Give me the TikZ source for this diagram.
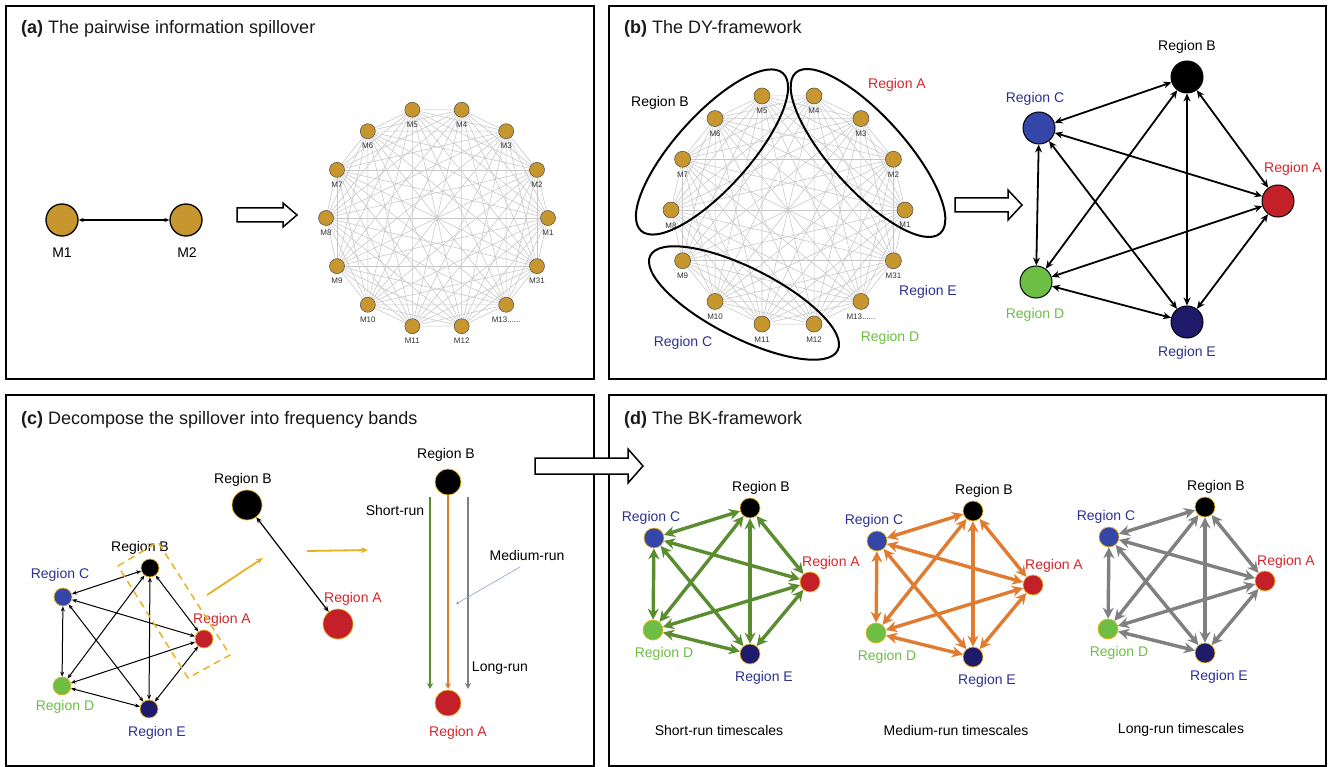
\documentclass[tikz,border=0pt]{standalone}
\usepackage{fontspec}
\setmainfont{Liberation Sans}
\usetikzlibrary{arrows.meta,calc}
\newcommand\mthirteenlab{M13......}
\definecolor{mgold}{HTML}{C8962E}
\definecolor{nodeC}{HTML}{3446A8}
\definecolor{nodeA}{HTML}{C4202A}
\definecolor{nodeD}{HTML}{6DBE45}
\definecolor{nodeE}{HTML}{1E1B6B}
\definecolor{txtRed}{HTML}{D7262B}
\definecolor{txtGreen}{HTML}{6DBE45}
\definecolor{txtNavy}{HTML}{2E3192}
\definecolor{ylw}{HTML}{E8B422}
\definecolor{arrowYlw}{HTML}{E8B020}
\definecolor{edgeGreen}{HTML}{5A8C30}
\definecolor{edgeOrange}{HTML}{E07B30}
\definecolor{edgeGray}{HTML}{808080}
\definecolor{blueThin}{HTML}{8C9CE8}
\begin{document}
\begin{tikzpicture}[x=1pt,y=-1pt,
  frame/.style={draw=black, line width=1.8pt},
  title/.style={anchor=west, font=\fontsize{18}{21}\selectfont, text=black!90, inner sep=0},
  lab/.style={font=\fontsize{14}{16}\selectfont, inner sep=0},
  mlab/.style={font=\fontsize{8}{9}\selectfont, text=black!80, inner sep=0},
  mesh/.style={draw=black!22, line width=0.55pt},
  mnode/.style={circle, fill=mgold, draw=black!70, line width=0.5pt, minimum size=15pt, inner sep=0},
  mbig/.style={circle, fill=mgold, draw=black, line width=1.3pt, minimum size=32pt, inner sep=0},
  hollow/.style={draw=black, fill=white, line width=1.5pt, line join=miter},
  regell/.style={draw=black, line width=2pt},
  bnode/.style={circle, draw=black, line width=1pt, minimum size=32pt, inner sep=0},
  bedge/.style={line width=1.8pt, {Stealth[length=8pt,width=7pt]}-{Stealth[length=8pt,width=7pt]}},
  cnode/.style={circle, draw=ylw, line width=0.7pt, inner sep=0},
  cedge/.style={line width=1pt, {Stealth[length=5pt,width=4pt]}-{Stealth[length=5pt,width=4pt]}},
  dedge/.style={line width=3.4pt, {Stealth[length=11pt,width=11pt]}-{Stealth[length=11pt,width=11pt]}},
  varrow/.style={line width=2.2pt, -{Stealth[length=6pt,width=6pt]}},
  yarrow/.style={draw=arrowYlw, line width=1.8pt, -{Stealth[length=7pt,width=6pt]}}
]
\useasboundingbox (0,0) rectangle (1330,767);
\fill[white] (0,0) rectangle (1330,767);

% frames
\draw[frame] (6,6) rectangle (594,379);
\draw[frame] (609,6) rectangle (1326,379);
\draw[frame] (6,395) rectangle (594,766);
\draw[frame] (609,395) rectangle (1326,766);

% ---------------- (a)
\node[title] (ta) at (21,29) {\textbf{(a)} The pairwise information spillover};
\node[mbig] (m1) at (62,220) {};
\node[mbig] (m2) at (186,220) {};
\draw[line width=1.3pt, {Stealth[length=5pt,width=4pt]}-{Stealth[length=5pt,width=4pt]}] (m1) -- (m2);
\node[lab] (m1l) at (62,253) {M1};
\node[lab] (m2l) at (187,253) {M2};
\draw[hollow] (237,208) -- (283,208) -- (283,203) -- (297,215) -- (283,227) -- (283,222) -- (237,222) -- cycle;

\begin{scope}[shift={(437,218)}]
  \foreach \i in {0,...,13} \coordinate (ap\i) at ({-\i*360/14}:111);
  \foreach \i in {0,...,12} {
    \pgfmathtruncatemacro\ni{\i+1}
    \foreach \j in {\ni,...,13} \draw[mesh] (ap\i) -- (ap\j);
  }
  \foreach \i/\t in {0/M1,1/M2,2/M3,3/M4,4/M5,5/M6,6/M7,7/M8,8/M9,9/M10,10/M11,11/M12,12/\mthirteenlab,13/M31}
    \node[mnode, label={[mlab, label distance=4pt]below:\t}] (an\i) at (ap\i) {};
\end{scope}

% ---------------- (b)
\node[title] (tb) at (624,29) {\textbf{(b)} The DY-framework};
\begin{scope}[shift={(788,210)}]
  \foreach \i in {0,...,13} \coordinate (bp\i) at ({-\i*360/14}:117);
  \foreach \i in {0,...,12} {
    \pgfmathtruncatemacro\ni{\i+1}
    \foreach \j in {\ni,...,13} \draw[mesh] (bp\i) -- (bp\j);
  }
  \foreach \i/\t in {0/M1,1/M2,2/M3,3/M4,4/M5,5/M6,6/M7,7/M8,8/M9,9/M10,10/M11,11/M12,12/\mthirteenlab,13/M31}
    \node[mnode, minimum size=16pt, label={[mlab, label distance=4pt]below:\t}] (bn\i) at (bp\i) {};
\end{scope}
\draw[regell, rotate around={-48:(868,153)}] (868,153) ellipse [x radius=108, y radius=37];
\draw[regell, rotate around={48:(712,152)}] (712,152) ellipse [x radius=106, y radius=37];
\draw[regell, rotate around={-26.8:(744,303)}] (744,303) ellipse [x radius=105, y radius=35];
\node[lab] (lbB) at (660,103) {Region B};
\node[lab, text=txtRed] (lbA) at (897,85) {Region A};
\node[lab, text=txtNavy] (lbE) at (928,292) {Region E};
\node[lab, text=txtGreen] (lbD) at (890,338) {Region D};
\node[lab, text=txtNavy] (lbC) at (683,343) {Region C};
\draw[hollow] (955,198) -- (1008,198) -- (1008,190) -- (1022,205) -- (1008,220) -- (1008,212) -- (955,212) -- cycle;

\node[bnode, fill=black] (nB) at (1187,77) {};
\node[bnode, fill=nodeC] (nC) at (1039,128) {};
\node[bnode, fill=nodeA] (nA) at (1278,201) {};
\node[bnode, fill=nodeD] (nD) at (1036,282) {};
\node[bnode, fill=nodeE] (nE) at (1187,322) {};
\foreach \u/\v in {B/C,B/A,B/D,B/E,C/A,C/D,C/E,A/D,A/E,D/E}
  \draw[bedge] (n\u) -- (n\v);
\node[lab] (nBl) at (1187,47) {Region B};
\node[lab, text=txtNavy] (nCl) at (1035,99) {Region C};
\node[lab, text=txtRed] (nAl) at (1293,169) {Region A};
\node[lab, text=txtGreen] (nDl) at (1035,315) {Region D};
\node[lab, text=txtNavy] (nEl) at (1187,353) {Region E};

% ---------------- (c)
\node[title] (tc) at (21,420) {\textbf{(c)} Decompose the spillover into frequency bands};
\node[cnode, fill=black, minimum size=18pt] (cB) at (150,568) {};
\node[cnode, fill=nodeC, minimum size=18pt] (cC) at (63,597) {};
\node[cnode, fill=nodeA, minimum size=18pt] (cA) at (204,639) {};
\node[cnode, fill=nodeD, minimum size=18pt] (cD) at (62,686) {};
\node[cnode, fill=nodeE, minimum size=18pt] (cE) at (149,709) {};
\foreach \u/\v in {B/C,B/A,B/D,B/E,C/A,C/D,C/E,A/D,A/E,D/E}
  \draw[cedge] (c\u) -- (c\v);
\node[lab] (cBl) at (140,548) {Region B};
\node[lab, text=txtNavy] (cCl) at (60,575) {Region C};
\node[lab, text=txtRed] (cAl) at (222,620) {Region A};
\node[lab, text=txtGreen] (cDl) at (65,707) {Region D};
\node[lab, text=txtNavy] (cEl) at (157,733) {Region E};
\draw[draw=ylw, line width=1.5pt, dash pattern=on 7pt off 5pt] (118,566) -- (158,542) -- (230,655) -- (188,678) -- cycle;

\coordinate (y1s) at (207,595); \coordinate (y1e) at (263,558);
\coordinate (y2s) at (307,551); \coordinate (y2e) at (368,550);
\draw[yarrow] (y1s) -- (y1e);
\draw[yarrow] (y2s) -- (y2e);

\node[cnode, fill=black, minimum size=30pt] (pB) at (247,505) {};
\node[cnode, fill=nodeA, minimum size=30pt] (pA) at (338,624) {};
\draw[line width=1.2pt, {Stealth[length=6pt,width=5pt]}-{Stealth[length=6pt,width=5pt]}] (pB) -- (pA);
\node[lab] (pBl) at (243,480) {Region B};
\node[lab, text=txtRed] (pAl) at (353,599) {Region A};

\node[cnode, fill=black, minimum size=26pt] (vB) at (448,482) {};
\node[cnode, fill=nodeA, minimum size=26pt] (vA) at (448,703) {};
\node[lab] (vBl) at (446,455) {Region B};
\node[lab, text=txtRed] (vAl) at (458,733) {Region A};
\coordinate (gs) at (430,497); \coordinate (ge) at (430,689);
\coordinate (oe) at (448,689);
\coordinate (ls) at (468,497); \coordinate (le) at (468,689);
\draw[varrow, draw=edgeGreen] (gs) -- (ge);
\draw[varrow, draw=edgeOrange] (vB) -- (oe);
\draw[varrow, draw=edgeGray] (ls) -- (le);
\node[lab] (srl) at (395,510) {Short-run};
\node[lab] (mrl) at (527,555) {Medium-run};
\node[lab] (lrl) at (500,668) {Long-run};
\coordinate (bls) at (520,567); \coordinate (ble) at (456,604);
\draw[draw=blueThin, line width=0.6pt, -{Stealth[length=3pt,width=3pt]}] (bls) -- (ble);

% big hollow arrow (c) -> (d)
\draw[hollow] (535,458) -- (628,458) -- (628,449) -- (643,466) -- (628,483) -- (628,474) -- (535,474) -- cycle;

% ---------------- (d)
\node[title] (td) at (624,420) {\textbf{(d)} The BK-framework};
\foreach \p/\bx/\by/\col in {s/750/508/edgeGreen, m/973/511/edgeOrange, l/1205/507/edgeGray} {
  \begin{scope}[shift={(\bx,\by)}]
    \node[cnode, fill=black, minimum size=20pt] (\p B) at (0,0) {};
    \node[cnode, fill=nodeC, minimum size=20pt] (\p C) at (-96,30) {};
    \node[cnode, fill=nodeA, minimum size=20pt] (\p A) at (60,74) {};
    \node[cnode, fill=nodeD, minimum size=20pt] (\p D) at (-97,122) {};
    \node[cnode, fill=nodeE, minimum size=20pt] (\p E) at (0,146) {};
    \foreach \u/\v in {B/C,B/A,B/D,B/E,C/A,C/D,C/E,A/D,A/E,D/E}
      \draw[dedge, draw=\col] (\p\u) -- (\p\v);
    \node[lab] (\p Bl) at (11,-20) {Region B};
    \node[lab, text=txtNavy] (\p Cl) at (-99,10) {Region C};
    \node[lab, text=txtRed] (\p Al) at (81,55) {Region A};
    \node[lab, text=txtGreen] (\p Dl) at (-86,146) {Region D};
    \node[lab, text=txtNavy] (\p El) at (14,170) {Region E};
  \end{scope}
}
\node[lab] (tsS) at (719,730) {Short-run timescales};
\node[lab] (tsM) at (956,730) {Medium-run timescales};
\node[lab] (tsL) at (1181,730) {Long-run timescales};
\end{tikzpicture}
\end{document}
